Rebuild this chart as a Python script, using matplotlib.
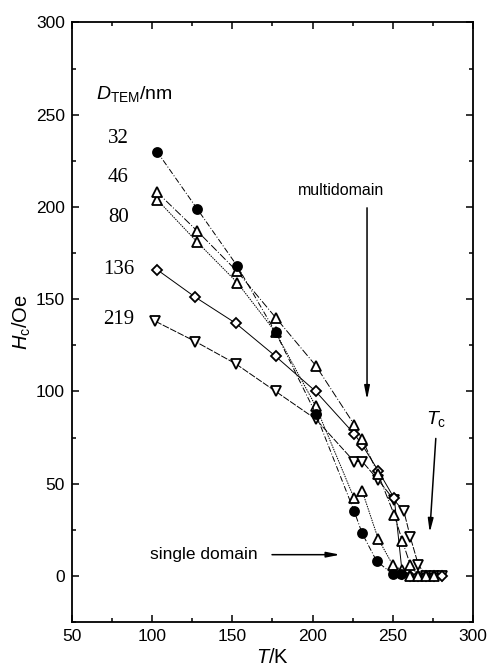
import matplotlib
matplotlib.use("Agg")
import matplotlib.pyplot as plt
from matplotlib.ticker import MultipleLocator

plt.rcParams["font.family"] = ["Liberation Sans", "DejaVu Sans"]
plt.rcParams["mathtext.fontset"] = "custom"
plt.rcParams["mathtext.rm"] = "Liberation Sans"
plt.rcParams["mathtext.it"] = "Liberation Sans:italic"

# coercivity vs temperature for each particle size (nm)
T32 = [103, 128, 153, 177, 202, 226, 231, 240, 250, 255]
H32 = [230, 199, 168, 132, 88, 35, 23, 8, 1, 1]

T46 = [103, 128, 153, 177, 202, 226, 231, 241, 251, 256, 261, 266, 271, 276]
H46 = [208, 187, 165, 140, 114, 82, 74, 55, 33, 19, 6, 0, 0, 0]

T80 = [103, 128, 153, 177, 202, 226, 231, 241, 250, 256, 261]
H80 = [204, 181, 159, 132, 92, 42, 46, 20, 6, 3, 0]

T136 = [103, 127, 152, 177, 202, 226, 231, 241, 251, 256, 261, 266, 271, 276, 281]
H136 = [166, 151, 137, 119, 100, 77, 71, 57, 42, 1, 0, 0, 0, 0, 0]

T219 = [102, 127, 152, 177, 202, 226, 231, 241, 251, 257, 261, 266, 271, 276, 281]
H219 = [138, 127, 115, 100, 85, 62, 62, 52, 41, 35, 21, 6, 0, 0, 0]

sizes = ["32", "46", "80", "136", "219"]
size_y = [237, 216, 194, 166, 139]

fig = plt.figure(figsize=(4.9, 6.7), dpi=100)
ax = fig.add_axes([0.147, 0.0716, 0.818, 0.895])

lw = 0.7
mk = dict(color="black", lw=lw, markersize=7, markeredgewidth=1.3,
          markeredgecolor="black")

ax.plot(T219, H219, ls=(0, (7, 1.5)), marker="v", markerfacecolor="white", **mk)
ax.plot(T136, H136, ls="-", marker="D", markerfacecolor="white",
        **{**mk, "markersize": 5.3})
ax.plot(T80, H80, ls=(0, (1.5, 1)), marker="^", markerfacecolor="white", **mk)
ax.plot(T46, H46, ls=(0, (8, 2, 1, 2)), marker="^", markerfacecolor="white", **mk)
ax.plot(T32, H32, ls=(0, (6, 2, 1, 2)), marker="o", markerfacecolor="black",
        **{**mk, "markersize": 6.5})

ax.set_xlim(50, 300)
ax.set_ylim(-25, 300)
ax.xaxis.set_major_locator(MultipleLocator(50))
ax.xaxis.set_minor_locator(MultipleLocator(25))
ax.yaxis.set_major_locator(MultipleLocator(50))
ax.yaxis.set_minor_locator(MultipleLocator(25))
ax.tick_params(which="both", direction="in", top=True, right=True,
               labelsize=12.5, width=1.1, pad=5)
ax.tick_params(which="major", length=5)
ax.tick_params(which="minor", length=3)
for s in ax.spines.values():
    s.set_linewidth(1.3)

ax.set_xlabel(r"$\mathit{T}$/K", fontsize=14.5, labelpad=3)
ax.set_ylabel(r"$\mathit{H}_\mathrm{c}$/Oe", fontsize=14.5, labelpad=2)

ax.text(65, 261, r"$\mathit{D}_\mathrm{TEM}$/nm", fontsize=14, va="center")
for lab, y in zip(sizes, size_y):
    ax.text(79, y, lab, fontsize=15, family="Liberation Serif",
            ha="center", va="center")

ax.text(218, 209, "multidomain", fontsize=11.5, ha="center", va="center")
ax.annotate("", xy=(234, 94), xytext=(234, 201),
            arrowprops=dict(arrowstyle="-|>,head_length=0.8,head_width=0.16",
                            color="black", lw=1.1))

ax.text(166, 11.5, "single domain", fontsize=12.5, ha="right", va="center")
ax.annotate("", xy=(219, 11.5), xytext=(173, 11.5),
            arrowprops=dict(arrowstyle="-|>,head_length=0.8,head_width=0.16",
                            color="black", lw=1.1))

ax.text(277, 85, r"$\mathit{T}_\mathrm{c}$", fontsize=14, ha="center", va="center")
ax.annotate("", xy=(273, 22), xytext=(277, 76),
            arrowprops=dict(arrowstyle="-|>,head_length=0.8,head_width=0.16",
                            color="black", lw=1.1))

fig.savefig("out.png", dpi=100)
